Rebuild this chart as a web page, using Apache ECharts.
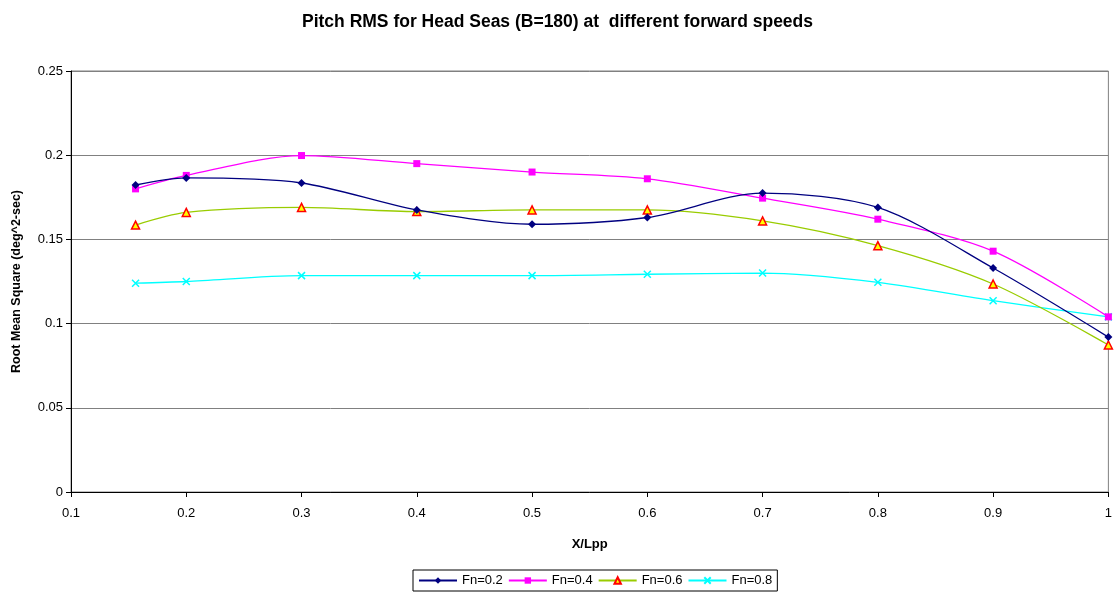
<!DOCTYPE html>
<html>
<head>
<meta charset="utf-8">
<script src="https://cdn.jsdelivr.net/npm/echarts@6/dist/echarts.min.js"></script>
<style>
  html, body { margin: 0; padding: 0; background: #fff; }
  #chart { width: 1115px; height: 595px; }
</style>
</head>
<body>
<div id="chart"></div>
<script>
// x positions along the hull (X/Lpp)
var xPos = [0.156, 0.2, 0.3, 0.4, 0.5, 0.6, 0.7, 0.8, 0.9, 1.0];

// pitch RMS per forward speed
var fn02 = [0.1823, 0.1865, 0.1835, 0.1675, 0.159, 0.163, 0.1775, 0.169, 0.133, 0.092];
var fn04 = [0.180, 0.188, 0.1998, 0.195, 0.190, 0.186, 0.1745, 0.162, 0.143, 0.104];
var fn06 = [0.1585, 0.166, 0.169, 0.1665, 0.1675, 0.1675, 0.161, 0.1463, 0.1235, 0.0873];
var fn08 = [0.124, 0.125, 0.1285, 0.1285, 0.1285, 0.1293, 0.130, 0.1245, 0.1136, 0.104];

var seriesNames = ['Fn=0.2', 'Fn=0.4', 'Fn=0.6', 'Fn=0.8'];

function pairs(xs, ys) {
    return xs.map(function (x, i) { return [x, ys[i]]; });
}

var font = 'Liberation Sans, Arial, sans-serif';
var crossPath = 'path://M0,0L10,10M10,0L0,10';

var myChart = echarts.init(document.getElementById('chart')),
    option = {
        animation: false,
        title: {
            text: 'Pitch RMS for Head Seas (B=180) at  different forward speeds',
            left: 'center',
            top: 8,
            textStyle: { fontFamily: font, fontSize: 17.5, fontWeight: 'bold', color: '#000' }
        },
        legend: {
            bottom: 4,
            left: 413,
            itemWidth: 38,
            itemHeight: 8,
            itemGap: 5,
            padding: [4, 5],
            borderColor: '#000',
            borderWidth: 1,
            borderRadius: 0,
            textStyle: { fontFamily: font, fontSize: 13, color: '#000' },
            data: seriesNames
        },
        grid: {
            left: 71,
            right: 5,
            top: 71,
            bottom: 103,
            show: true,
            borderColor: '#808080',
            borderWidth: 1
        },
        xAxis: {
            type: 'value',
            min: 0.1,
            max: 1,
            interval: 0.1,
            name: 'X/Lpp',
            nameLocation: 'middle',
            nameGap: 46,
            nameTextStyle: { fontFamily: font, fontSize: 13, fontWeight: 'bold', color: '#000' },
            axisLine: { lineStyle: { color: '#000' } },
            axisTick: { show: true, length: 5, lineStyle: { color: '#000' } },
            axisLabel: {
                fontFamily: font, fontSize: 13, color: '#000', margin: 15,
                formatter: function (v) { return String(Math.round(v * 10) / 10); }
            },
            splitLine: { show: false }
        },
        yAxis: {
            type: 'value',
            min: 0,
            max: 0.25,
            interval: 0.05,
            name: 'Root Mean Square (deg^2-sec)',
            nameLocation: 'middle',
            nameGap: 48,
            nameRotate: 90,
            nameTextStyle: { fontFamily: font, fontSize: 12.5, fontWeight: 'bold', color: '#000' },
            axisLine: { show: true, lineStyle: { color: '#000' } },
            axisTick: { show: true, length: 5, lineStyle: { color: '#000' } },
            axisLabel: {
                fontFamily: font, fontSize: 13, color: '#000', margin: 8,
                formatter: function (v) { return String(Math.round(v * 100) / 100); }
            },
            splitLine: { show: true, lineStyle: { color: '#808080', width: 1 } }
        },
        series: [
            {
                name: seriesNames[0],
                type: 'line',
                smooth: 0.3,
                data: pairs(xPos, fn02),
                symbol: 'diamond',
                symbolSize: 8,
                lineStyle: { color: '#000080', width: 1.3 },
                itemStyle: { color: '#000080' },
                z: 5
            },
            {
                name: seriesNames[1],
                type: 'line',
                smooth: 0.3,
                data: pairs(xPos, fn04),
                symbol: 'rect',
                symbolSize: 7,
                lineStyle: { color: '#FF00FF', width: 1.3 },
                itemStyle: { color: '#FF00FF' },
                z: 4
            },
            {
                name: seriesNames[2],
                type: 'line',
                smooth: 0.3,
                data: pairs(xPos, fn06),
                symbol: 'triangle',
                symbolSize: 8,
                lineStyle: { color: '#99CC00', width: 1.3 },
                itemStyle: { color: '#FFFF00', borderColor: '#FF0000', borderWidth: 1.5 },
                z: 3
            },
            {
                name: seriesNames[3],
                type: 'line',
                smooth: 0.3,
                data: pairs(xPos, fn08),
                symbol: crossPath,
                symbolSize: 7,
                lineStyle: { color: '#00FFFF', width: 1.3 },
                itemStyle: { color: '#00FFFF', borderColor: '#00FFFF', borderWidth: 1.5 },
                z: 2
            }
        ]
    };

myChart.setOption(option);
</script>
</body>
</html>
